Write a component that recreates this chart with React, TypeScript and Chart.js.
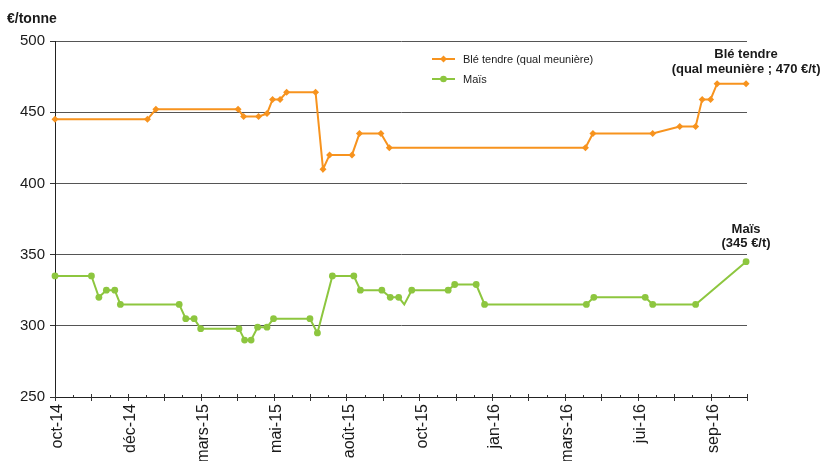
import React, { useEffect, useRef } from 'react';
import { Chart, registerables } from 'chart.js';

Chart.register(...registerables);

const FONT = '"Liberation Sans", Arial, Helvetica, sans-serif';

// Cotations (€/tonne) aux dates de changement de prix
const bleDates = [
  '2014-10-01', '2015-01-08', '2015-01-17', '2015-04-15', '2015-04-21', '2015-05-07',
  '2015-05-16', '2015-05-22', '2015-05-30', '2015-06-06', '2015-07-07', '2015-07-15',
  '2015-07-22', '2015-08-15', '2015-08-23', '2015-09-15', '2015-09-24', '2016-04-21',
  '2016-04-29', '2016-07-02', '2016-07-31', '2016-08-17', '2016-08-24', '2016-09-02',
  '2016-09-09', '2016-10-10',
];
const bleValues = [
  445, 445, 452, 452, 447, 447,
  449, 459, 459, 464, 464, 410,
  420, 420, 435, 435, 425, 425,
  435, 435, 440, 440, 459, 459,
  470, 470,
];

const maisDates = [
  '2014-10-01', '2014-11-09', '2014-11-17', '2014-11-25', '2014-12-04', '2014-12-10',
  '2015-02-11', '2015-02-18', '2015-02-27', '2015-03-06', '2015-04-16', '2015-04-22',
  '2015-04-29', '2015-05-06', '2015-05-16', '2015-05-23', '2015-07-01', '2015-07-09',
  '2015-07-25', '2015-08-17', '2015-08-24', '2015-09-16', '2015-09-25', '2015-10-04',
  '2015-10-10', '2015-10-18', '2015-11-26', '2015-12-03', '2015-12-26', '2016-01-04',
  '2016-04-22', '2016-04-30', '2016-06-24', '2016-07-02', '2016-08-17', '2016-10-10',
];
const maisValues = [
  335, 335, 320, 325, 325, 315,
  315, 305, 305, 298, 298, 290,
  290, 299, 299, 305, 305, 295,
  335, 335, 325, 325, 320, 320,
  315, 325, 325, 329, 329, 315,
  315, 320, 320, 315, 315, 345,
];
// cotation tracée sans marqueur
const maisUnmarkedDates = ['2015-10-10'];

const seriesNames = ['Blé tendre (qual meunière)', 'Maïs'];
const xTickLabels = [
  'oct-14', 'déc-14', 'mars-15', 'mai-15', 'août-15',
  'oct-15', 'jan-16', 'mars-16', 'jui-16', 'sep-16',
];
const yMin = 250;
const yMax = 500;
const yStep = 50;
const unitLabel = '€/tonne';
const bleCallout = ['Blé tendre', '(qual meunière ; 470 €/t)'];
const maisCallout = ['Maïs', '(345 €/t)'];

const ORANGE = '#F7931E';
const GREEN = '#8DC63F';
const TEXT = '#1a1a1a';

// axe des temps : jours depuis le 1er octobre 2014, graduation tous les 39 jours
const ORIGIN = Date.UTC(2014, 9, 1);
const TICK_DAYS = 39;
const X_MAX = TICK_DAYS * 19;
const toDay = (s: string) => {
  const [y, m, d] = s.split('-').map(Number);
  return Math.round((Date.UTC(y, m - 1, d) - ORIGIN) / 86400000);
};

const blePoints = bleDates.map((d, i) => ({ x: toDay(d), y: bleValues[i] }));
const maisPoints = maisDates.map((d, i) => ({ x: toDay(d), y: maisValues[i] }));
const maisUnmarked = new Set(maisUnmarkedDates.map(toDay));

function drawMarker(ctx: CanvasRenderingContext2D, style: string, x: number, y: number, r: number, color: string) {
  ctx.fillStyle = color;
  ctx.beginPath();
  if (style === 'rectRot') {
    ctx.moveTo(x, y - r);
    ctx.lineTo(x + r, y);
    ctx.lineTo(x, y + r);
    ctx.lineTo(x - r, y);
    ctx.closePath();
  } else {
    ctx.arc(x, y, r, 0, Math.PI * 2);
  }
  ctx.fill();
}

const decorPlugin = {
  id: 'decor',
  afterDraw(chart: any) {
    const ctx: CanvasRenderingContext2D = chart.ctx;
    const xs = chart.scales.x;
    const area = chart.chartArea;
    ctx.save();

    // unité
    ctx.fillStyle = TEXT;
    ctx.font = `bold 14px ${FONT}`;
    ctx.textAlign = 'left';
    ctx.textBaseline = 'alphabetic';
    ctx.fillText(unitLabel, 7, 23);

    // graduations principales et secondaires de l'axe des temps
    const y0 = Math.round(area.bottom) + 0.5;
    ctx.strokeStyle = '#333';
    ctx.lineWidth = 1;
    for (let k = 0; k <= 38; k++) {
      const d = (k * TICK_DAYS) / 2;
      const px = Math.round(xs.getPixelForValue(d)) + 0.5;
      const major = k % 2 === 0;
      ctx.beginPath();
      ctx.moveTo(px, major ? y0 - 3.5 : y0 - 2.5);
      ctx.lineTo(px, major ? y0 + 3.5 : y0);
      ctx.stroke();
    }

    // légende
    const lx = area.left + 377;
    const legendRows = [
      { y: area.top + 18, color: ORANGE, style: 'rectRot', r: 3.5, label: seriesNames[0] },
      { y: area.top + 38, color: GREEN, style: 'circle', r: 3.3, label: seriesNames[1] },
    ];
    ctx.font = `11px ${FONT}`;
    ctx.textBaseline = 'middle';
    for (const row of legendRows) {
      ctx.strokeStyle = row.color;
      ctx.lineWidth = 2;
      ctx.beginPath();
      ctx.moveTo(lx, row.y);
      ctx.lineTo(lx + 23, row.y);
      ctx.stroke();
      drawMarker(ctx, row.style, lx + 11.5, row.y, row.r, row.color);
      ctx.fillStyle = TEXT;
      ctx.fillText(row.label, lx + 31, row.y + 0.5);
    }

    // étiquettes de la dernière cotation
    const callout = (index: number, lines: string[], offsets: number[]) => {
      const meta = chart.getDatasetMeta(index);
      const last = meta.data[meta.data.length - 1];
      ctx.fillStyle = TEXT;
      ctx.font = `bold 13px ${FONT}`;
      ctx.textAlign = 'center';
      ctx.textBaseline = 'middle';
      lines.forEach((t, i) => ctx.fillText(t, last.x, last.y + offsets[i]));
    };
    callout(0, bleCallout, [-29, -14]);
    callout(1, maisCallout, [-32, -18]);

    ctx.restore();
  },
};

export default function App() {
  const canvasRef = useRef<HTMLCanvasElement | null>(null);

  useEffect(() => {
    const canvas = canvasRef.current;
    if (!canvas) return;
    const chart = new Chart(canvas, {
      type: 'line',
      data: {
        datasets: [
          {
            label: seriesNames[0],
            data: blePoints,
            borderColor: ORANGE,
            backgroundColor: ORANGE,
            borderWidth: 2,
            pointStyle: 'rectRot',
            pointRadius: 3.5,
            pointBorderWidth: 0,
            tension: 0,
            clip: false,
          },
          {
            label: seriesNames[1],
            data: maisPoints,
            borderColor: GREEN,
            backgroundColor: GREEN,
            borderWidth: 2,
            pointStyle: 'circle',
            pointRadius: (c: any) => (maisUnmarked.has(c.raw?.x) ? 0 : 3.4),
            pointBorderWidth: 0,
            tension: 0,
            clip: false,
          },
        ],
      },
      options: {
        responsive: false,
        animation: false,
        layout: { padding: { top: 41, right: 75, left: 0, bottom: 0 } },
        plugins: {
          legend: { display: false },
          tooltip: { enabled: false },
        },
        scales: {
          x: {
            type: 'linear',
            min: 0,
            max: X_MAX,
            afterFit: (s: any) => {
              s.height = 64;
            },
            grid: { display: true, drawOnChartArea: false, drawTicks: false, color: 'rgba(0,0,0,0)' },
            border: { display: true, color: '#222', width: 1 },
            ticks: {
              stepSize: TICK_DAYS,
              autoSkip: false,
              minRotation: 90,
              maxRotation: 90,
              padding: 7,
              labelOffset: 3,
              color: TEXT,
              font: { family: FONT, size: 16 },
              callback: (_v: any, i: number) => (i % 2 === 0 ? xTickLabels[i / 2] ?? '' : ''),
            },
          },
          y: {
            type: 'linear',
            min: yMin,
            max: yMax,
            afterFit: (s: any) => {
              s.width = 55;
            },
            grid: { color: '#555', lineWidth: 1, tickLength: 5, tickColor: '#333' },
            border: { display: true, color: '#222', width: 1 },
            ticks: {
              stepSize: yStep,
              padding: 5,
              color: TEXT,
              font: { family: FONT, size: 15 },
            },
          },
        },
      },
      plugins: [decorPlugin],
    } as any);
    return () => chart.destroy();
  }, []);

  return (
    <div style={{ position: 'fixed', left: 0, top: 0, width: 822, height: 461, background: '#fff' }}>
      <canvas ref={canvasRef} width={822} height={461} style={{ display: 'block' }} />
    </div>
  );
}
